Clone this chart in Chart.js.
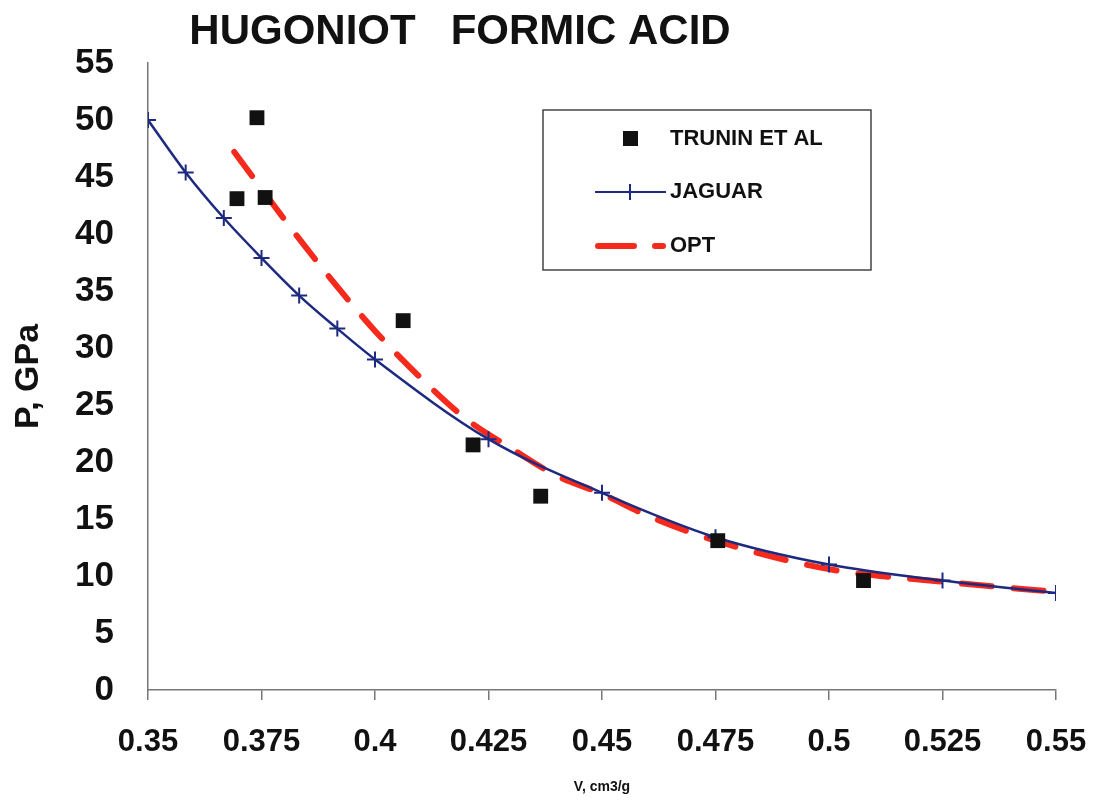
<!DOCTYPE html>
<html>
<head>
<meta charset="utf-8">
<title>Hugoniot Formic Acid</title>
<script src="https://cdn.jsdelivr.net/npm/chart.js@4/dist/chart.umd.min.js"></script>
<style>
  html, body { margin: 0; padding: 0; background: #fff; }
  #wrap { width: 1094px; height: 800px; }
</style>
</head>
<body>
<div id="wrap"><canvas id="hugoniot"></canvas></div>
<script>
// data
const truninV = [0.3696, 0.374, 0.3758, 0.4062, 0.4216, 0.4365, 0.4755, 0.5076];
const truninP = [43.1, 50.2, 43.2, 32.4, 21.5, 17.0, 13.1, 9.6];

const jaguarV = [0.35, 0.3583, 0.3667, 0.375, 0.3833, 0.3917, 0.4, 0.425, 0.45, 0.475, 0.5, 0.525, 0.55];
const jaguarP = [50.0, 45.4, 41.4, 37.9, 34.6, 31.7, 29.0, 22.0, 17.3, 13.4, 11.0, 9.6, 8.5];

const optV = [0.369, 0.38, 0.39, 0.40, 0.41, 0.42, 0.43, 0.44, 0.45, 0.46, 0.475, 0.5, 0.525, 0.55];
const optP = [47.2, 41.3, 36.2, 31.5, 27.4, 23.8, 21.2, 18.8, 17.2, 15.3, 13.1, 10.6, 9.5, 8.6];

const xTicks = { min: 0.35, max: 0.55, step: 0.025 };
const yTicks = { min: 0, max: 55, step: 5 };

function toPoints(xs, ys) {
    return xs.map(function(x, i) { return { x: x, y: ys[i] }; });
}

const FONT = "'Liberation Sans', Arial, sans-serif";

// title drawn a bit left of centre, like the original slide
const titlePlugin = {
    id: 'slideTitle',
    afterDraw: function(chart) {
        const ctx = chart.ctx;
        ctx.save();
        ctx.font = 'bold 42px ' + FONT;
        ctx.fillStyle = '#111';
        ctx.textAlign = 'center';
        ctx.textBaseline = 'alphabetic';
        ctx.fillText('HUGONIOT   FORMIC ACID', 460, 44);
        ctx.restore();
    }
};

// boxed legend inside the plot
const boxLegend = {
    id: 'boxLegend',
    afterDraw: function(chart) {
        const ctx = chart.ctx;
        const ds = chart.data.datasets;
        ctx.save();
        ctx.strokeStyle = '#444';
        ctx.lineWidth = 1.5;
        ctx.strokeRect(543, 110, 328, 160);

        ctx.font = 'bold 22px ' + FONT;
        ctx.fillStyle = '#111';
        ctx.textBaseline = 'middle';
        ctx.textAlign = 'left';

        // trunin
        ctx.fillStyle = ds[0].backgroundColor;
        ctx.fillRect(623, 131, 15, 15);
        ctx.fillStyle = '#111';
        ctx.fillText(ds[0].label, 670, 139);

        // jaguar
        ctx.strokeStyle = ds[1].borderColor;
        ctx.lineWidth = 2;
        ctx.beginPath();
        ctx.moveTo(595, 192); ctx.lineTo(666, 192);
        ctx.moveTo(630, 184); ctx.lineTo(630, 200);
        ctx.stroke();
        ctx.fillText(ds[1].label, 670, 192);

        // opt
        ctx.strokeStyle = ds[2].borderColor;
        ctx.lineWidth = 6;
        ctx.lineCap = 'round';
        ctx.beginPath();
        ctx.moveTo(598, 246); ctx.lineTo(634, 246);
        ctx.moveTo(655, 246); ctx.lineTo(663, 246);
        ctx.stroke();
        ctx.fillText(ds[2].label, 670, 246);
        ctx.restore();
    }
};

const chart = new Chart(document.getElementById('hugoniot').getContext('2d'), {
    type: 'scatter',
    data: {
        datasets: [
            {
                label: 'TRUNIN ET AL',
                data: toPoints(truninV, truninP),
                showLine: false,
                pointStyle: 'rect',
                pointRadius: 10.5,
                backgroundColor: '#111',
                borderColor: '#111',
                borderWidth: 0
            },
            {
                label: 'JAGUAR',
                data: toPoints(jaguarV, jaguarP),
                showLine: true,
                cubicInterpolationMode: 'monotone',
                borderColor: '#1d2a80',
                borderWidth: 2.5,
                pointStyle: 'cross',
                pointRadius: 8,
                pointBorderWidth: 2,
                pointBorderColor: '#1d2a80',
                backgroundColor: '#1d2a80'
            },
            {
                label: 'OPT',
                data: toPoints(optV, optP),
                showLine: true,
                cubicInterpolationMode: 'monotone',
                borderColor: '#f52a1c',
                backgroundColor: '#f52a1c',
                borderWidth: 6,
                borderDash: [30, 22],
                borderCapStyle: 'round',
                pointRadius: 0
            }
        ]
    },
    options: {
        responsive: true,
        maintainAspectRatio: false,
        animation: false,
        layout: { padding: { left: 0, right: 38, top: 63, bottom: 0 } },
        plugins: {
            legend: { display: false },
            tooltip: { enabled: false }
        },
        scales: {
            x: {
                type: 'linear',
                min: xTicks.min,
                max: xTicks.max,
                afterFit: function(scale) {
                    scale.height = 110;
                    scale.paddingLeft = 0;
                    scale.paddingRight = 0;
                },
                border: { display: true, color: '#777', width: 1.5 },
                grid: { drawOnChartArea: false, drawTicks: true, tickLength: 10, color: '#777', lineWidth: 1.5 },
                ticks: {
                    stepSize: xTicks.step,
                    padding: 24,
                    color: '#111',
                    font: { family: FONT, size: 31, weight: 'bold' },
                    maxRotation: 0,
                    autoSkip: false,
                    callback: function(v) { return String(Number(v.toFixed(3))); }
                },
                title: {
                    display: true,
                    text: 'V, cm3/g',
                    color: '#111',
                    font: { family: FONT, size: 14, weight: 'bold' },
                    padding: { top: 0, bottom: 4 }
                }
            },
            y: {
                min: yTicks.min,
                max: yTicks.max,
                afterFit: function(scale) {
                    scale.width = 148;
                    scale.paddingTop = 0;
                    scale.paddingBottom = 0;
                },
                border: { display: true, color: '#777', width: 1.5 },
                grid: { display: false, drawTicks: false },
                ticks: {
                    stepSize: yTicks.step,
                    padding: 34,
                    color: '#111',
                    font: { family: FONT, size: 35, weight: 'bold' }
                },
                title: {
                    display: true,
                    text: 'P, GPa',
                    color: '#111',
                    font: { family: FONT, size: 34, weight: 'bold' },
                    padding: { top: 8, bottom: 0 }
                }
            }
        }
    },
    plugins: [titlePlugin, boxLegend]
});
</script>
</body>
</html>
